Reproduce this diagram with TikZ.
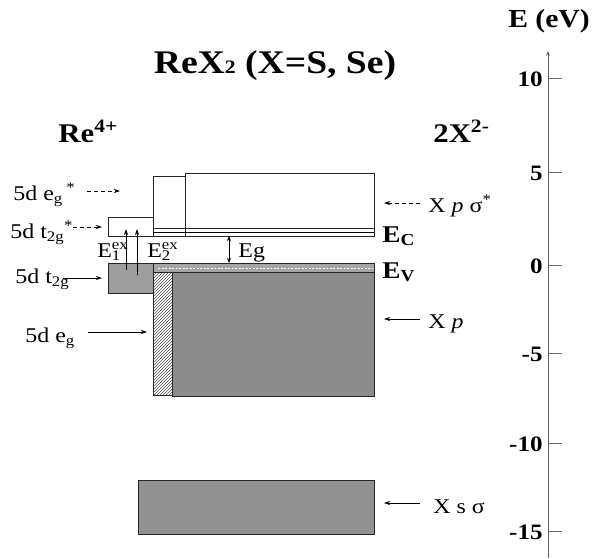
\documentclass[tikz,border=0pt]{standalone}
\usepackage{fontspec}
\setmainfont{Liberation Serif}[FakeStretch=1.14]
\usetikzlibrary{arrows.meta,patterns}
\tikzset{every picture/.style={line width=0.75pt}}
\tikzset{
  lbl/.style={font=\fontsize{21}{23}\selectfont, inner sep=0pt, anchor=base west},
  bold lbl/.style={font=\fontsize{27}{29}\selectfont\bfseries, inner sep=0pt, anchor=base west},
  band/.style={draw=black!85, line width=0.8pt},
  pt/.style={-{Stealth[length=6pt,width=4pt]}, line width=0.7pt},
  dpt/.style={pt, dashed, dash pattern=on 4pt off 3pt},
}
\newcommand{\stk}[2]{\makebox[0pt][l]{\textsuperscript{#2}}\textsubscript{#1}}

\begin{document}
\begin{tikzpicture}[x=1pt,y=-1pt]
    \useasboundingbox (0,0) rectangle (595,558);
    % titles
    \node[font=\fontsize{33}{35}\selectfont\bfseries, inner sep=0pt, anchor=base] (title) at (275,73) {ReX{\fontsize{19}{19}\selectfont 2} (X=S, Se)};
    \node[bold lbl] (re) at (58,142) {Re\textsuperscript{4+}};
    \node[bold lbl] (xx) at (433,142) {2X\textsuperscript{2-}};

    % conduction side
    \draw[band, fill=white] (108,217) rectangle (153,236);
    \draw[band, fill=white] (153,176) rectangle (185,236);
    \draw[band, fill=white] (185,173) rectangle (374,228);
    \draw[band] (153,228) rectangle (374,236);
    \draw[line width=0.5pt] (153,232) -- (374,232);

    % valence side
    \draw[band, fill=black!38] (108,263) rectangle (153,293);
    \draw[band, fill=black!35] (153,263) rectangle (374,272);
    \draw[white, dashed, dash pattern=on 2pt off 1.5pt, line width=0.8pt] (158,268.5) -- (372,268.5);
    \draw[band, pattern=north east lines, pattern color=black!70] (153,272) rectangle (172,395);
    \draw[band, fill=black!45] (172,272) rectangle (374,396);
    \draw[band, fill=black!43] (138,480) rectangle (374,534);

    % excitations and gap
    \coordinate (a1) at (126,270); \coordinate (b1) at (126,229);
    \coordinate (a2) at (137,275); \coordinate (b2) at (137,229);
    \draw[pt] (a1) -- (b1);
    \draw[pt] (a2) -- (b2);
    \node[lbl] (e1) at (97,257) {E\stk{1}{ex}};
    \node[lbl] (e2) at (147,257) {E\stk{2}{ex}};
    \coordinate (gt) at (229,236); \coordinate (gb) at (229,263);
    \draw[{Stealth[length=5pt,width=4pt]}-{Stealth[length=5pt,width=4pt]}, line width=0.7pt] (gt) -- (gb);
    \node[lbl] (eg) at (238,257) {Eg};
    \node[bold lbl, font=\fontsize{24}{26}\selectfont\bfseries] (ec) at (382,242) {E\textsubscript{C}};
    \node[bold lbl, font=\fontsize{24}{26}\selectfont\bfseries] (ev) at (382,278) {E\textsubscript{V}};

    % left labels
    \node[lbl] (egs) at (13,200) {5d e\textsubscript{g}\,\textsuperscript{*}};
    \node[lbl] (tgs) at (10,238) {5d t\textsubscript{2g}\textsuperscript{*}};
    \node[lbl] (tg) at (15,283) {5d t\textsubscript{2g}};
    \node[lbl] (egl) at (25,342) {5d e\textsubscript{g}};
    \coordinate (egs-e) at (120,191); \coordinate (tgs-e) at (102,227);
    \coordinate (tg-e) at (102,278); \coordinate (egl-e) at (147,332);
    \draw[dpt] (87,191) -- (egs-e);
    \draw[dpt] (73,227) -- (tgs-e);
    \draw[pt] (63,278) -- (tg-e);
    \draw[pt] (88,332) -- (egl-e);

    % right labels
    \node[lbl] (xps) at (428,212) {X \textit{p} σ\textsuperscript{*}};
    \node[lbl] (xp) at (428,328) {X \textit{p}};
    \node[lbl] (xs) at (433,513) {X s σ};
    \coordinate (xps-e) at (384,203); \coordinate (xp-e) at (384,319); \coordinate (xs-e) at (384,503);
    \draw[dpt] (420,203) -- (xps-e);
    \draw[pt] (420,319) -- (xp-e);
    \draw[pt] (420,503) -- (xs-e);

    % energy axis
    \coordinate (ax0) at (548,558); \coordinate (ax1) at (548,51);
    \draw[gray!80!black, line width=1pt, -{Stealth[length=5pt,width=4pt]}] (ax0) -- (ax1);
    \node[font=\fontsize{26}{28}\selectfont\bfseries, inner sep=0pt, anchor=base] (unit) at (549,27) {E (eV)};
    \foreach \v/\y in {10/78,5/172,0/265,-5/353,-10/443,-15/531} {
        \draw[gray!80!black, line width=0.8pt] (548,\y) -- (562,\y);
        \node[font=\fontsize{22}{24}\selectfont\bfseries, inner sep=0pt, anchor=east] (t\v) at (543,\y+1) {\v};
    }
\end{tikzpicture}
\end{document}
